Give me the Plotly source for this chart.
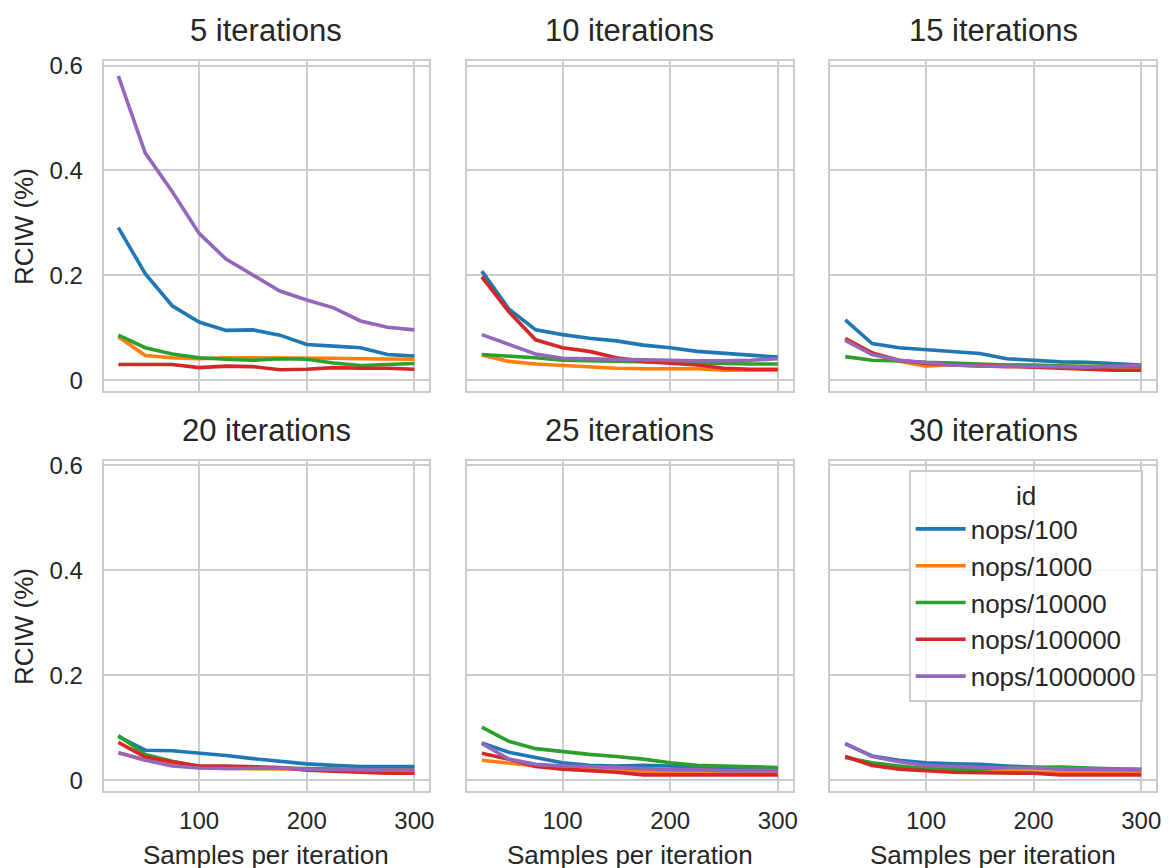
import plotly.graph_objects as go

# Samples per iteration (x) and the facet values (iterations per run)
samples = [25, 50, 75, 100, 125, 150, 175, 200, 225, 250, 275, 300]
iterations = [5, 10, 15, 20, 25, 30]
ids = ["nops/100", "nops/1000", "nops/10000", "nops/100000", "nops/1000000"]
colors = ["#1f77b4", "#ff7f0e", "#2ca02c", "#d62728", "#9467bd"]

# RCIW per id (rows in the order of `ids`) for each iteration count
rciw_5 = [
    [0.291, 0.203, 0.142, 0.111, 0.095, 0.096, 0.086, 0.068, 0.065, 0.062, 0.049, 0.046],
    [0.083, 0.047, 0.043, 0.041, 0.043, 0.043, 0.043, 0.042, 0.042, 0.041, 0.041, 0.040],
    [0.086, 0.062, 0.050, 0.043, 0.040, 0.038, 0.041, 0.040, 0.033, 0.028, 0.030, 0.032],
    [0.030, 0.030, 0.030, 0.024, 0.027, 0.026, 0.020, 0.021, 0.024, 0.023, 0.023, 0.021],
    [0.580, 0.433, 0.360, 0.280, 0.231, 0.200, 0.170, 0.153, 0.138, 0.113, 0.101, 0.096],
]
rciw_10 = [
    [0.208, 0.136, 0.096, 0.087, 0.080, 0.075, 0.067, 0.062, 0.055, 0.051, 0.047, 0.044],
    [0.048, 0.036, 0.031, 0.028, 0.026, 0.023, 0.022, 0.022, 0.022, 0.019, 0.019, 0.019],
    [0.049, 0.046, 0.043, 0.038, 0.037, 0.035, 0.034, 0.033, 0.032, 0.031, 0.031, 0.031],
    [0.197, 0.131, 0.077, 0.062, 0.055, 0.043, 0.036, 0.033, 0.029, 0.023, 0.021, 0.021],
    [0.087, 0.068, 0.050, 0.042, 0.041, 0.040, 0.038, 0.037, 0.037, 0.037, 0.038, 0.041],
]
rciw_15 = [
    [0.115, 0.070, 0.062, 0.058, 0.055, 0.051, 0.041, 0.038, 0.035, 0.034, 0.032, 0.029],
    [0.080, 0.052, 0.036, 0.027, 0.030, 0.030, 0.029, 0.027, 0.026, 0.026, 0.026, 0.026],
    [0.045, 0.038, 0.037, 0.034, 0.033, 0.031, 0.029, 0.029, 0.027, 0.026, 0.026, 0.026],
    [0.079, 0.052, 0.038, 0.032, 0.029, 0.027, 0.026, 0.025, 0.023, 0.021, 0.019, 0.019],
    [0.076, 0.049, 0.038, 0.033, 0.029, 0.027, 0.027, 0.026, 0.026, 0.025, 0.026, 0.028],
]
rciw_20 = [
    [0.083, 0.057, 0.056, 0.052, 0.047, 0.041, 0.036, 0.031, 0.028, 0.026, 0.026, 0.026],
    [0.052, 0.039, 0.030, 0.024, 0.022, 0.022, 0.022, 0.021, 0.020, 0.019, 0.018, 0.018],
    [0.085, 0.049, 0.036, 0.026, 0.025, 0.024, 0.023, 0.021, 0.020, 0.019, 0.019, 0.019],
    [0.072, 0.044, 0.035, 0.027, 0.027, 0.026, 0.024, 0.019, 0.017, 0.014, 0.013, 0.013],
    [0.052, 0.038, 0.027, 0.023, 0.022, 0.023, 0.023, 0.021, 0.020, 0.019, 0.019, 0.019],
]
rciw_25 = [
    [0.071, 0.053, 0.043, 0.033, 0.028, 0.027, 0.028, 0.027, 0.024, 0.023, 0.021, 0.021],
    [0.038, 0.032, 0.027, 0.023, 0.021, 0.019, 0.016, 0.015, 0.015, 0.015, 0.015, 0.015],
    [0.101, 0.074, 0.060, 0.054, 0.049, 0.045, 0.040, 0.033, 0.028, 0.027, 0.026, 0.024],
    [0.051, 0.040, 0.026, 0.021, 0.018, 0.015, 0.010, 0.010, 0.011, 0.011, 0.010, 0.010],
    [0.070, 0.040, 0.030, 0.027, 0.026, 0.024, 0.021, 0.020, 0.020, 0.018, 0.018, 0.018],
]
rciw_30 = [
    [0.069, 0.046, 0.038, 0.033, 0.031, 0.030, 0.027, 0.024, 0.022, 0.021, 0.021, 0.020],
    [0.045, 0.030, 0.024, 0.021, 0.018, 0.016, 0.016, 0.015, 0.015, 0.015, 0.015, 0.015],
    [0.043, 0.033, 0.027, 0.022, 0.020, 0.021, 0.024, 0.025, 0.025, 0.023, 0.021, 0.020],
    [0.045, 0.028, 0.021, 0.018, 0.015, 0.014, 0.014, 0.013, 0.010, 0.010, 0.010, 0.010],
    [0.070, 0.045, 0.035, 0.028, 0.026, 0.024, 0.023, 0.023, 0.021, 0.021, 0.020, 0.020],
]
panels = [rciw_5, rciw_10, rciw_15, rciw_20, rciw_25, rciw_30]

x_ticks = [100, 200, 300]
y_ticks = [0, 0.2, 0.4, 0.6]
y_tick_text = ["0", "0.2", "0.4", "0.6"]

W, H = 1170, 868
FONT = "Liberation Sans, Arial, Helvetica, sans-serif"
TEXT = "#262626"
GRID = "#cccccc"

# Panel boxes in pixels: (left, right) per column, (top, bottom) per row
col_px = [(104, 431), (469, 796), (834, 1161)]
row_px = [(53, 387), (458, 792)]

fig = go.Figure()
layout = {}
annotations = []

for k, (it, data) in enumerate(zip(iterations, panels)):
    r, c = divmod(k, 3)
    n = k + 1
    xa = "x" if n == 1 else f"x{n}"
    ya = "y" if n == 1 else f"y{n}"
    for i, name in enumerate(ids):
        fig.add_trace(go.Scatter(
            x=samples, y=data[i], mode="lines", name=name,
            line=dict(color=colors[i], width=3.6),
            xaxis=xa, yaxis=ya, showlegend=(n == 6),
        ))
    l, rt = col_px[c]
    t, b = row_px[r]
    xdom = [l / W, rt / W]
    ydom = [1 - b / H, 1 - t / H]
    common = dict(
        showgrid=True, gridcolor=GRID, gridwidth=1.6, zeroline=False,
        showline=True, linecolor=GRID, linewidth=1.6, mirror=True,
        ticks="outside", tickcolor="rgba(0,0,0,0)",
        tickfont=dict(family=FONT, size=24, color=TEXT),
    )
    layout["xaxis" if n == 1 else f"xaxis{n}"] = dict(
        common, domain=xdom, anchor=ya, range=[11.25, 313.75],
        tickvals=x_ticks, showticklabels=(r == 1), ticklen=7,
    )
    layout["yaxis" if n == 1 else f"yaxis{n}"] = dict(
        common, domain=ydom, anchor=xa, range=[-0.0207, 0.608],
        tickvals=y_ticks, ticktext=y_tick_text, showticklabels=(c == 0),
        ticklen=14,
    )
    # facet title
    annotations.append(dict(
        text=f"{it} iterations", xref="paper", yref="paper",
        x=(l + rt) / 2 / W, y=1 - (t - 31) / H, xanchor="center", yanchor="middle",
        showarrow=False, font=dict(family=FONT, size=31, color=TEXT),
    ))
    if c == 0:
        annotations.append(dict(
            text="RCIW (%)", xref="paper", yref="paper", textangle=-90,
            x=24 / W, y=1 - (t + b) / 2 / H, xanchor="center", yanchor="middle",
            showarrow=False, font=dict(family=FONT, size=26, color=TEXT),
        ))
    if r == 1:
        annotations.append(dict(
            text="Samples per iteration", xref="paper", yref="paper",
            x=(l + rt) / 2 / W, y=1 - 857 / H, xanchor="center", yanchor="middle",
            showarrow=False, font=dict(family=FONT, size=26, color=TEXT),
        ))

fig.update_layout(
    width=W, height=H,
    margin=dict(l=0, r=0, t=0, b=0),
    paper_bgcolor="white", plot_bgcolor="white",
    font=dict(family=FONT, color=TEXT),
    annotations=annotations,
    legend=dict(
        title=dict(text="id", side="top center", font=dict(family=FONT, size=26, color=TEXT)),
        font=dict(family=FONT, size=26, color=TEXT),
        x=1148 / W, y=1 - 467 / H, xanchor="right", yanchor="top",
        bgcolor="rgba(255,255,255,0.8)", bordercolor=GRID, borderwidth=1.6,
        itemwidth=50, tracegroupgap=0,
    ),
    **layout,
)

fig.write_html("out.html")
